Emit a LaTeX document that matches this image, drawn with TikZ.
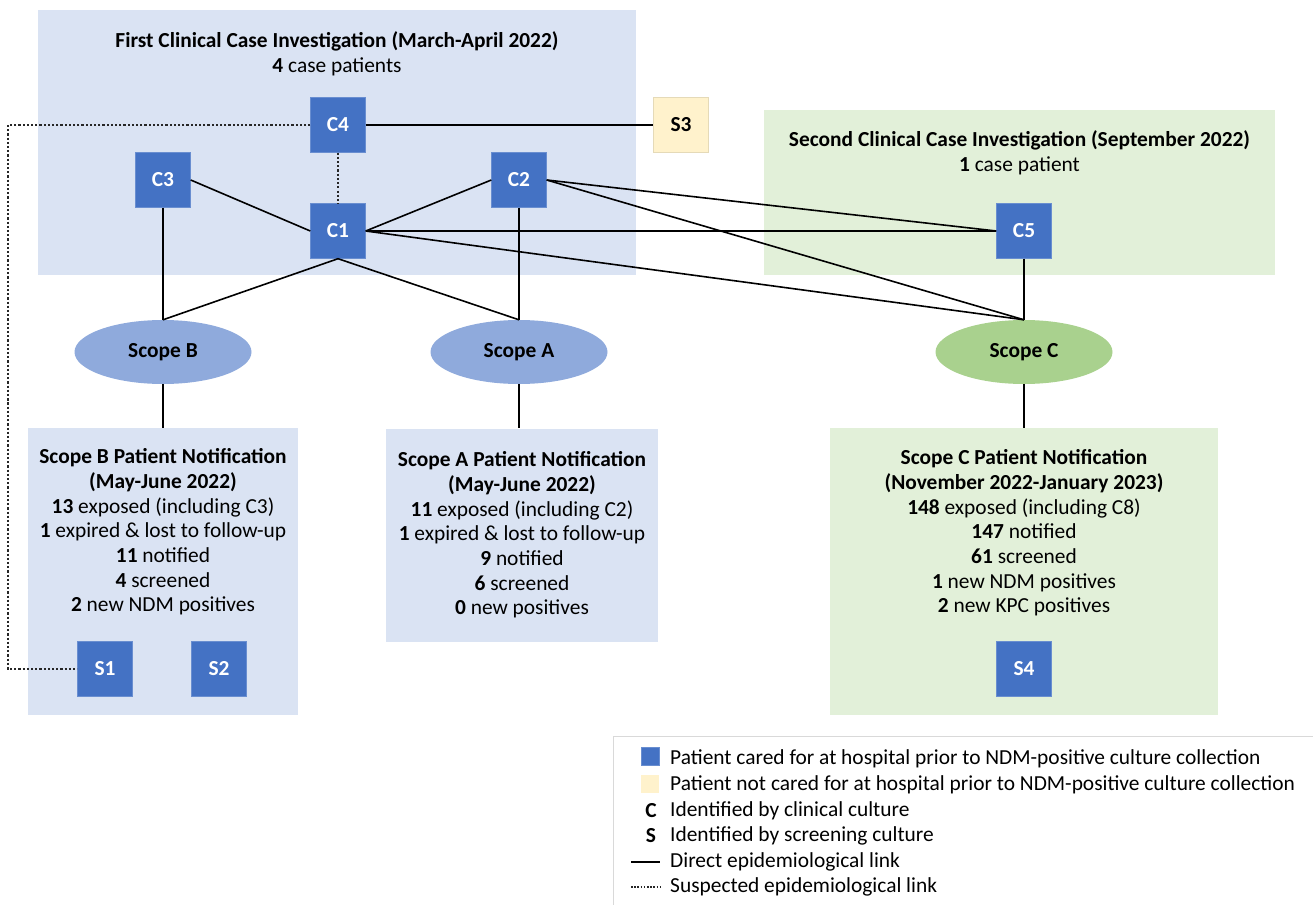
\documentclass[tikz,border=0pt]{standalone}
\usepackage{fontspec}
\setmainfont{Carlito}
\usepackage{xcolor}
\usetikzlibrary{positioning,shapes.geometric}

\definecolor{caseblue}{HTML}{4472C4}
\definecolor{invblue}{HTML}{DAE3F3}
\definecolor{scopeblue}{HTML}{8FAADC}
\definecolor{invgreen}{HTML}{E2F0D9}
\definecolor{scopegreen}{HTML}{A9D18E}
\definecolor{extyellow}{HTML}{FFF2CC}
\definecolor{legendgray}{HTML}{D9D9D9}

\newcommand{\txtsize}{\fontsize{21.4}{24.7}\selectfont}

\tikzset{
  patient/.style={fill=caseblue, draw=caseblue!80!white, text=white,
    font=\txtsize\bfseries, minimum size=55, inner sep=0},
  extpatient/.style={patient, fill=extyellow, draw=extyellow!90!black, text=black},
  scope/.style={ellipse, minimum width=177, minimum height=64,
    font=\txtsize\bfseries, inner sep=0},
  panel/.style={inner sep=0, draw=none},
  info/.style={align=center, font=\txtsize, inner sep=0},
  link/.style={line width=1.6pt, black},
  suspect/.style={line width=2pt, black!85, dash pattern=on 2.2pt off 2pt},
}

\begin{document}
\begin{tikzpicture}[x=1pt, y=-1pt]
  \useasboundingbox (0,0) rectangle (1313,904);

  % Investigation panels
  \node[panel, fill=invblue, minimum width=598, minimum height=265] (inv1) at (337,142.5) {};
  \node[panel, fill=invgreen, minimum width=511, minimum height=165] (inv2) at (1019.5,192.5) {};
  \node[info] (inv1text) at (337,54)
    {\textbf{First Clinical Case Investigation (March-April 2022)}\\\textbf{4} case patients};
  \node[info] (inv2text) at (1019.5,152.5)
    {\textbf{Second Clinical Case Investigation (September 2022)}\\\textbf{1} case patient};

  % Notification panels
  \node[panel, fill=invblue, minimum width=270, minimum height=287] (notb) at (163,571.5) {};
  \node[panel, fill=invblue, minimum width=272, minimum height=213] (nota) at (522,535) {};
  \node[panel, fill=invgreen, minimum width=388, minimum height=287] (notc) at (1024,571.5) {};

  \node[info] (notbtext) at (163,532)
    {\textbf{Scope B Patient Notification}\\\textbf{(May-June 2022)}\\
     \textbf{13} exposed (including C3)\\\textbf{1} expired \& lost to follow-up\\
     \textbf{11} notified\\\textbf{4} screened\\\textbf{2} new NDM positives};
  \node[info] (notatext) at (522,535)
    {\textbf{Scope A Patient Notification}\\\textbf{(May-June 2022)}\\
     \textbf{11} exposed (including C2)\\\textbf{1} expired \& lost to follow-up\\
     \textbf{9} notified\\\textbf{6} screened\\\textbf{0} new positives};
  \node[info] (notctext) at (1024,533)
    {\textbf{Scope C Patient Notification}\\\textbf{(November 2022-January 2023)}\\
     \textbf{148} exposed (including C8)\\\textbf{147} notified\\
     \textbf{61} screened\\\textbf{1} new NDM positives\\\textbf{2} new KPC positives};

  % Case patients
  \node[patient] (c4) at (338,125) {C4};
  \node[extpatient] (s3) at (681,125) {S3};
  \node[patient] (c3) at (163,180) {C3};
  \node[patient] (c2) at (519,180) {C2};
  \node[patient] (c1) at (338,231) {C1};
  \node[patient] (c5) at (1024,231) {C5};
  \node[patient] (s1) at (105,669) {S1};
  \node[patient] (s2) at (219,669) {S2};
  \node[patient] (s4) at (1024,669) {S4};

  % Scopes
  \node[scope, fill=scopeblue] (scopeb) at (163,352) {Scope B};
  \node[scope, fill=scopeblue] (scopea) at (519,352) {Scope A};
  \node[scope, fill=scopegreen] (scopec) at (1024,352) {Scope C};

  % Direct links
  \draw[link] (c4) -- (s3);
  \draw[link] (c3.east) -- (c1.west);
  \draw[link] (c2.west) -- (c1.east);
  \draw[link] (c1.east) -- (c5.west);
  \draw[link] (c2.east) -- (c5.west);
  \draw[link] (c2.east) -- (scopec.north);
  \draw[link] (c1.east) -- (scopec.north);
  \draw[link] (c5.south) -- (scopec.north);
  \draw[link] (c3.south) -- (scopeb.north);
  \draw[link] (c1.south) -- (scopeb.north);
  \draw[link] (c1.south) -- (scopea.north);
  \draw[link] (c2.south) -- (scopea.north);
  \draw[link] (scopeb.south) -- (notb.north);
  \draw[link] (scopea.south) -- (nota.north -| scopea.south);
  \draw[link] (scopec.south) -- (notc.north -| scopec.south);

  % Suspected links
  \coordinate (rail) at (8,400);
  \draw[suspect] (c4.south) -- (c1.north);
  \draw[suspect] (c4.west) -| (rail) |- (s1.west);

  % Legend
  \draw[legendgray, line width=0.8pt, fill=white] (613,736) rectangle (1316,907);
  \node[patient, minimum size=18] (keyblue) at (650,756) {};
  \node[extpatient, minimum size=18, draw=none] (keyyellow) at (650,784) {};
  \node[font=\txtsize\bfseries, inner sep=0] (keyc) at (651,811) {C};
  \node[font=\txtsize\bfseries, inner sep=0] (keys) at (651,836) {S};
  \coordinate (keydirecta) at (631,862);
  \coordinate (keydirectb) at (660,862);
  \coordinate (keysuspa) at (631,887);
  \coordinate (keysuspb) at (660,887);
  \draw[link, line width=1.2pt] (keydirecta) -- (keydirectb);
  \draw[suspect, line width=1.4pt, dash pattern=on 1.6pt off 1.6pt] (keysuspa) -- (keysuspb);
  \node[anchor=west, font=\txtsize, inner sep=0] at (670,759) {Patient cared for at hospital prior to NDM-positive culture collection};
  \node[anchor=west, font=\txtsize, inner sep=0] at (670,785) {Patient not cared for at hospital prior to NDM-positive culture collection};
  \node[anchor=west, font=\txtsize, inner sep=0] at (670,811) {Identified by clinical culture};
  \node[anchor=west, font=\txtsize, inner sep=0] at (670,836) {Identified by screening culture};
  \node[anchor=west, font=\txtsize, inner sep=0] at (670,862) {Direct epidemiological link};
  \node[anchor=west, font=\txtsize, inner sep=0] at (670,887) {Suspected epidemiological link};
\end{tikzpicture}
\end{document}
